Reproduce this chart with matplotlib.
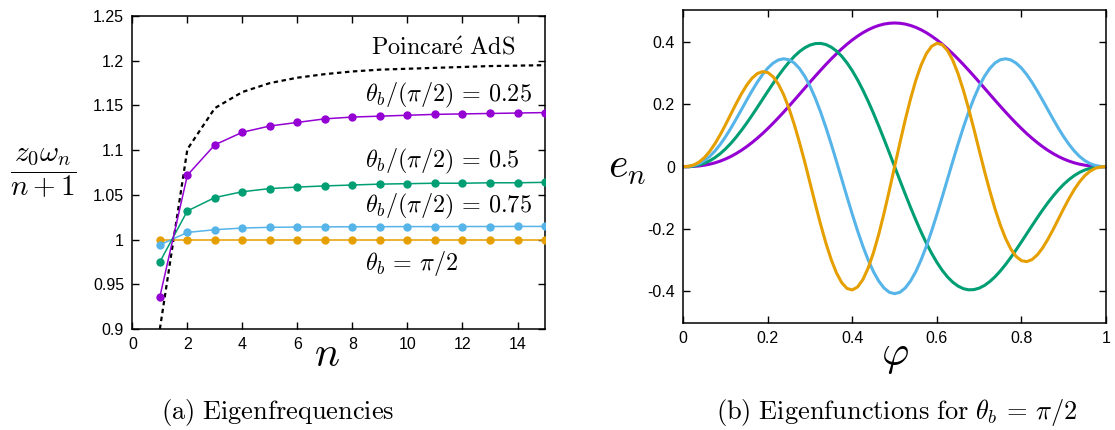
import matplotlib
matplotlib.use("Agg")
import matplotlib.pyplot as plt

plt.rcParams.update({
    "font.family": ["Liberation Sans", "DejaVu Sans"],
    "mathtext.fontset": "cm",
    "axes.unicode_minus": False,
    "axes.linewidth": 1.1,
    "xtick.direction": "in",
    "ytick.direction": "in",
    "xtick.top": True,
    "ytick.right": True,
    "xtick.major.size": 5,
    "ytick.major.size": 5,
    "xtick.major.width": 1.0,
    "ytick.major.width": 1.0,
    "xtick.labelsize": 11.5,
    "ytick.labelsize": 11.5,
})

# ── (a) eigenfrequencies ───────────────────────────────────────────────
n = [1, 2, 3, 4, 5, 6, 7, 8, 9, 10, 11, 12, 13, 14, 15]
poincare = [0.900, 1.101, 1.147, 1.165, 1.175, 1.181, 1.185, 1.188,
            1.190, 1.191, 1.192, 1.193, 1.194, 1.1945, 1.195]
w_025 = [0.936, 1.072, 1.106, 1.120, 1.127, 1.131, 1.135, 1.137,
         1.138, 1.139, 1.140, 1.1405, 1.141, 1.1415, 1.142]
w_050 = [0.975, 1.032, 1.047, 1.0535, 1.057, 1.0587, 1.060, 1.061,
         1.062, 1.0625, 1.063, 1.063, 1.0635, 1.0635, 1.064]
w_075 = [0.994, 1.008, 1.011, 1.0129, 1.0137, 1.014, 1.0142, 1.0143,
         1.0144, 1.0145, 1.0145, 1.0146, 1.0146, 1.0147, 1.0147]
w_100 = [1.0, 1.0, 1.0, 1.0, 1.0, 1.0, 1.0, 1.0,
         1.0, 1.0, 1.0, 1.0, 1.0, 1.0, 1.0]

# ── (b) eigenfunctions for theta_b = pi/2 (read every 0.0125 in phi) ──
phi = [0.0, 0.0125, 0.025, 0.0375, 0.05, 0.0625, 0.075, 0.0875, 0.1, 0.1125,
       0.125, 0.1375, 0.15, 0.1625, 0.175, 0.1875, 0.2, 0.2125, 0.225, 0.2375,
       0.25, 0.2625, 0.275, 0.2875, 0.3, 0.3125, 0.325, 0.3375, 0.35, 0.3625,
       0.375, 0.3875, 0.4, 0.4125, 0.425, 0.4375, 0.45, 0.4625, 0.475, 0.4875,
       0.5, 0.5125, 0.525, 0.5375, 0.55, 0.5625, 0.575, 0.5875, 0.6, 0.6125,
       0.625, 0.6375, 0.65, 0.6625, 0.675, 0.6875, 0.7, 0.7125, 0.725, 0.7375,
       0.75, 0.7625, 0.775, 0.7875, 0.8, 0.8125, 0.825, 0.8375, 0.85, 0.8625,
       0.875, 0.8875, 0.9, 0.9125, 0.925, 0.9375, 0.95, 0.9625, 0.975, 0.9875,
       1.0]
e0 = [0.0, 0.0001, 0.0008, 0.0022, 0.0045, 0.0077, 0.0121, 0.0177, 0.0244, 0.0324,
      0.0417, 0.0522, 0.0639, 0.0768, 0.0908, 0.1058, 0.1219, 0.1387, 0.1564, 0.1746,
      0.1934, 0.2125, 0.2319, 0.2514, 0.2708, 0.2900, 0.3088, 0.3271, 0.3447, 0.3615,
      0.3774, 0.3922, 0.4058, 0.4180, 0.4289, 0.4382, 0.4460, 0.4521, 0.4565, 0.4591,
      0.4600, 0.4591, 0.4565, 0.4521, 0.4460, 0.4382, 0.4289, 0.4180, 0.4058, 0.3922,
      0.3774, 0.3615, 0.3447, 0.3271, 0.3088, 0.2900, 0.2708, 0.2514, 0.2319, 0.2125,
      0.1934, 0.1746, 0.1564, 0.1387, 0.1219, 0.1058, 0.0908, 0.0768, 0.0639, 0.0522,
      0.0417, 0.0324, 0.0244, 0.0177, 0.0121, 0.0077, 0.0045, 0.0022, 0.0008, 0.0001,
      0.0]
e1 = [0.0, 0.0003, 0.0019, 0.0053, 0.0108, 0.0185, 0.0288, 0.0416, 0.0568, 0.0744,
      0.0942, 0.1159, 0.1392, 0.1638, 0.1893, 0.2152, 0.2411, 0.2664, 0.2908, 0.3136,
      0.3344, 0.3529, 0.3684, 0.3807, 0.3893, 0.3940, 0.3946, 0.3909, 0.3827, 0.3702,
      0.3532, 0.3320, 0.3067, 0.2775, 0.2449, 0.2091, 0.1706, 0.1300, 0.0876, 0.0441,
      0.0, -0.0441, -0.0876, -0.1300, -0.1706, -0.2091, -0.2449, -0.2775, -0.3067, -0.3320,
      -0.3532, -0.3702, -0.3827, -0.3909, -0.3946, -0.3940, -0.3893, -0.3807, -0.3684, -0.3529,
      -0.3344, -0.3136, -0.2908, -0.2664, -0.2411, -0.2152, -0.1893, -0.1638, -0.1392, -0.1159,
      -0.0942, -0.0744, -0.0568, -0.0416, -0.0288, -0.0185, -0.0108, -0.0053, -0.0019, -0.0003,
      0.0]
e2 = [0.0, 0.0006, 0.0035, 0.0095, 0.0191, 0.0326, 0.0501, 0.0712, 0.0956, 0.1228,
      0.1520, 0.1822, 0.2128, 0.2423, 0.2700, 0.2948, 0.3156, 0.3314, 0.3416, 0.3454,
      0.3422, 0.3319, 0.3141, 0.2891, 0.2571, 0.2186, 0.1743, 0.1252, 0.0722, 0.0165,
      -0.0405, -0.0976, -0.1533, -0.2064, -0.2554, -0.2992, -0.3367, -0.3668, -0.3890, -0.4025,
      -0.4070, -0.4025, -0.3890, -0.3668, -0.3367, -0.2992, -0.2554, -0.2064, -0.1533, -0.0976,
      -0.0405, 0.0165, 0.0722, 0.1252, 0.1743, 0.2186, 0.2571, 0.2891, 0.3141, 0.3319,
      0.3422, 0.3454, 0.3416, 0.3314, 0.3156, 0.2948, 0.2700, 0.2423, 0.2128, 0.1822,
      0.1520, 0.1228, 0.0956, 0.0712, 0.0501, 0.0326, 0.0191, 0.0095, 0.0035, 0.0006,
      0.0]
e3 = [0.0, 0.0010, 0.0053, 0.0145, 0.0289, 0.0487, 0.0734, 0.1024, 0.1344, 0.1680,
      0.2015, 0.2329, 0.2607, 0.2828, 0.2978, 0.3043, 0.3012, 0.2879, 0.2641, 0.2302,
      0.1868, 0.1353, 0.0770, 0.0141, -0.0529, -0.1205, -0.1855, -0.2454, -0.2979, -0.3407,
      -0.3720, -0.3904, -0.3950, -0.3853, -0.3616, -0.3246, -0.2756, -0.2163, -0.1489, -0.0759,
      0.0, 0.0759, 0.1489, 0.2163, 0.2756, 0.3246, 0.3616, 0.3853, 0.3950, 0.3904,
      0.3720, 0.3407, 0.2979, 0.2454, 0.1855, 0.1205, 0.0529, -0.0141, -0.0770, -0.1353,
      -0.1868, -0.2302, -0.2641, -0.2879, -0.3012, -0.3043, -0.2978, -0.2828, -0.2607, -0.2329,
      -0.2015, -0.1680, -0.1344, -0.1024, -0.0734, -0.0487, -0.0289, -0.0145, -0.0053, -0.0010,
      0.0]

PURPLE = "#9400d3"
GREEN = "#009e73"
BLUE = "#56b4e9"
ORANGE = "#e69f00"

fig = plt.figure(figsize=(11.15, 4.30), dpi=100)
ax1 = fig.add_axes([0.1187, 0.2349, 0.3701, 0.7279])
ax2 = fig.add_axes([0.6128, 0.2495, 0.3791, 0.7261])

# left panel
ax1.plot(n, poincare, color="black", lw=1.6, ls=(0, (2, 1.6)), zorder=2)
for vals, col in [(w_100, ORANGE), (w_075, BLUE), (w_050, GREEN), (w_025, PURPLE)]:
    ax1.plot(n, vals, color=col, lw=1.1, marker="o", ms=5, zorder=3)
ax1.set_xlim(0, 15)
ax1.set_ylim(0.9, 1.25)
ax1.set_xticks([0, 2, 4, 6, 8, 10, 12, 14])
ax1.set_yticks([0.9, 0.95, 1.0, 1.05, 1.1, 1.15, 1.2, 1.25])
ax1.set_yticklabels(["0.9", "0.95", "1", "1.05", "1.1", "1.15", "1.2", "1.25"])

lab = dict(fontsize=17.4, ha="left", va="center")
ax1.text(8.66, 1.2139, r"$\mathrm{Poincar\acute{e}\ AdS}$", **lab)
ax1.text(8.46, 1.1616, r"$\theta_b/(\pi/2)\,=\,0.25$", **lab)
ax1.text(8.46, 1.0870, r"$\theta_b/(\pi/2)\,=\,0.5$", **lab)
ax1.text(8.46, 1.0367, r"$\theta_b/(\pi/2)\,=\,0.75$", **lab)
ax1.text(8.46, 0.9734, r"$\theta_b\,=\,\pi/2$", **lab)

# right panel
for vals, col in [(e0, PURPLE), (e1, GREEN), (e2, BLUE), (e3, ORANGE)]:
    ax2.plot(phi, vals, color=col, lw=2.2, solid_capstyle="round", solid_joinstyle="round")
ax2.set_xlim(0, 1)
ax2.set_ylim(-0.5, 0.5)
ax2.set_xticks([0, 0.2, 0.4, 0.6, 0.8, 1.0])
ax2.set_xticklabels(["0", "0.2", "0.4", "0.6", "0.8", "1"])
ax2.set_yticks([-0.4, -0.2, 0, 0.2, 0.4])
ax2.set_yticklabels(["-0.4", "-0.2", "0", "0.2", "0.4"])

for ax in (ax1, ax2):
    ax.tick_params(pad=6)

# axis labels and captions
fig.text(0.039, 0.598, r"$\dfrac{z_0\omega_n}{n+1}$", fontsize=21, ha="center", va="center")
fig.text(0.2935, 0.150, r"$n$", fontsize=30, ha="center", va="baseline")
fig.text(0.562, 0.612, r"$e_n$", fontsize=30, ha="center", va="center")
fig.text(0.8027, 0.150, r"$\varphi$", fontsize=30, ha="center", va="baseline")
fig.text(0.2493, 0.040, r"$\mathrm{(a)\ Eigenfrequencies}$", fontsize=19, ha="center", va="center")
fig.text(0.8045, 0.040, r"$\mathrm{(b)\ Eigenfunctions\ for\ }\theta_b\,=\,\pi/2$",
         fontsize=19, ha="center", va="center")

fig.savefig("out.png", dpi=100)
